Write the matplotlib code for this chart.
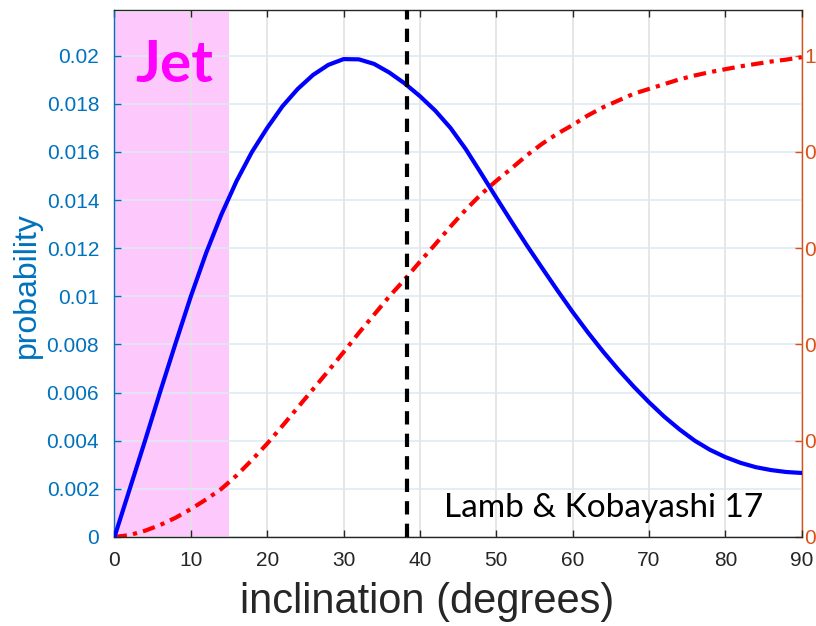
import numpy as np
import matplotlib.pyplot as plt
from matplotlib.ticker import FuncFormatter

# inclination grid, degrees
incl = [0, 2, 4, 6, 8, 10, 12, 14, 16, 18, 20, 22, 24, 26, 28, 30, 32, 34, 36, 38,
        40, 42, 44, 46, 48, 50, 52, 54, 56, 58, 60, 62, 64, 66, 68, 70, 72, 74, 76,
        78, 80, 82, 84, 86, 88, 90]
# probability density (left axis)
prob = [0, 0.00200, 0.00400, 0.00605, 0.00805, 0.01000, 0.01180, 0.01340, 0.01480, 0.01600,
        0.01700, 0.01790, 0.01862, 0.01920, 0.01962, 0.01986, 0.01985, 0.01966, 0.01930, 0.01885,
        0.01832, 0.01772, 0.01700, 0.01612, 0.01512, 0.01410, 0.01310, 0.01212, 0.01118, 0.01025,
        0.00935, 0.00850, 0.00770, 0.00695, 0.00625, 0.00560, 0.00500, 0.00447, 0.00400, 0.00362,
        0.00332, 0.00308, 0.00290, 0.00278, 0.00270, 0.00266]
# cumulative probability (right axis)
cumul = [0, 0.004, 0.013, 0.025, 0.040, 0.058, 0.078, 0.100, 0.128, 0.160,
         0.194, 0.231, 0.269, 0.307, 0.345, 0.384, 0.424, 0.462, 0.500, 0.535,
         0.572, 0.608, 0.645, 0.680, 0.712, 0.740, 0.766, 0.793, 0.817, 0.838,
         0.856, 0.876, 0.893, 0.907, 0.921, 0.931, 0.941, 0.951, 0.959, 0.966,
         0.972, 0.978, 0.983, 0.988, 0.992, 0.997]
jet_range = (0, 15)
incl_marker = 38.3

BLUE_AX = "#0072BD"
ORANGE_AX = "#D95319"
DARK = "#262626"

plt.rcParams["font.family"] = ["Liberation Sans", "DejaVu Sans"]

fig = plt.figure(figsize=(8.16, 6.26), dpi=100)
ax = fig.add_axes([0.1403, 0.1422, 0.8422, 0.8418])
ax2 = ax.twinx()
# ax (blue curve) on top, ax2 (span, grid, red curve) underneath
ax2.set_zorder(1)
ax.set_zorder(2)
ax.patch.set_visible(False)

ymax = 0.0219
ax.set_xlim(0, 90)
ax.set_ylim(0, ymax)
ax2.set_ylim(0, ymax * 50)

# background layer
ax2.axvspan(*jet_range, ymax=0.996, color="#fdc9fd", lw=0, zorder=0.1)
ax2.set_axisbelow(True)
ax2.xaxis.set_visible(True)
ax2.set_xticks(np.arange(0, 91, 10))
ax2.tick_params(axis="x", bottom=False, top=False, labelbottom=False, labeltop=False)
ax2.grid(axis="x", color="#e2e2e2", lw=1.2)
ax2.set_yticks(np.arange(0, 1.01, 0.2))
ax2.set_yticks(np.arange(0, 1.01, 0.1), minor=True)
ax2.grid(axis="y", which="both", color="#dfe9f2", lw=1.2)
ax2.plot(incl, cumul, color="#ff0000", lw=3, ls=(0, (3, 1.5, 1, 1.5)), zorder=2)

# top layer
ax.plot(incl, prob, color="#0000ff", lw=3, zorder=3)
ax.axvline(incl_marker, color="black", lw=3, ls=(0, (3.2, 2.2)), zorder=4)

ax.text(2.8, 0.0189, "Jet", color="#ff00ff", fontsize=42, fontweight="bold",
        family=["Lato", "DejaVu Sans"], ha="left", va="baseline")
ax.text(43.2, 0.00083, "Lamb & Kobayashi 17", color="black", fontsize=24,
        family=["Lato", "DejaVu Sans"], ha="left", va="baseline")

# ticks and spines, MATLAB style
fmt = FuncFormatter(lambda v, p: "%g" % round(v, 6))
ax.set_xticks(np.arange(0, 91, 10))
ax.set_yticks(np.arange(0, 0.0201, 0.002))
ax.yaxis.set_major_formatter(fmt)
ax2.yaxis.set_major_formatter(fmt)
ax.tick_params(axis="x", direction="in", top=True, length=5, width=1,
               colors=DARK, labelsize=15, pad=10)
ax.tick_params(axis="y", direction="in", length=5, width=1,
               colors=BLUE_AX, labelsize=15, pad=11)
ax2.tick_params(axis="y", which="major", direction="in", length=5, width=1,
                colors=ORANGE_AX, labelsize=15, pad=2)
ax2.tick_params(axis="y", which="minor", length=0)

for s in ["top", "bottom"]:
    ax.spines[s].set_color(DARK)
    ax2.spines[s].set_visible(False)
ax.spines["left"].set_color(BLUE_AX)
ax.spines["right"].set_visible(False)
ax2.spines["left"].set_visible(False)
ax2.spines["right"].set_color(ORANGE_AX)
for s in ax.spines.values():
    s.set_linewidth(1)
ax2.spines["right"].set_linewidth(1)

ax.set_xlabel("inclination (degrees)", fontsize=30, color=DARK, labelpad=9)
ax.xaxis.label.set_x(0.455)
ax.set_ylabel("probability", fontsize=23, color=BLUE_AX, labelpad=3)
ax.yaxis.label.set_y(0.478)

fig.savefig("out.png", dpi=100)
